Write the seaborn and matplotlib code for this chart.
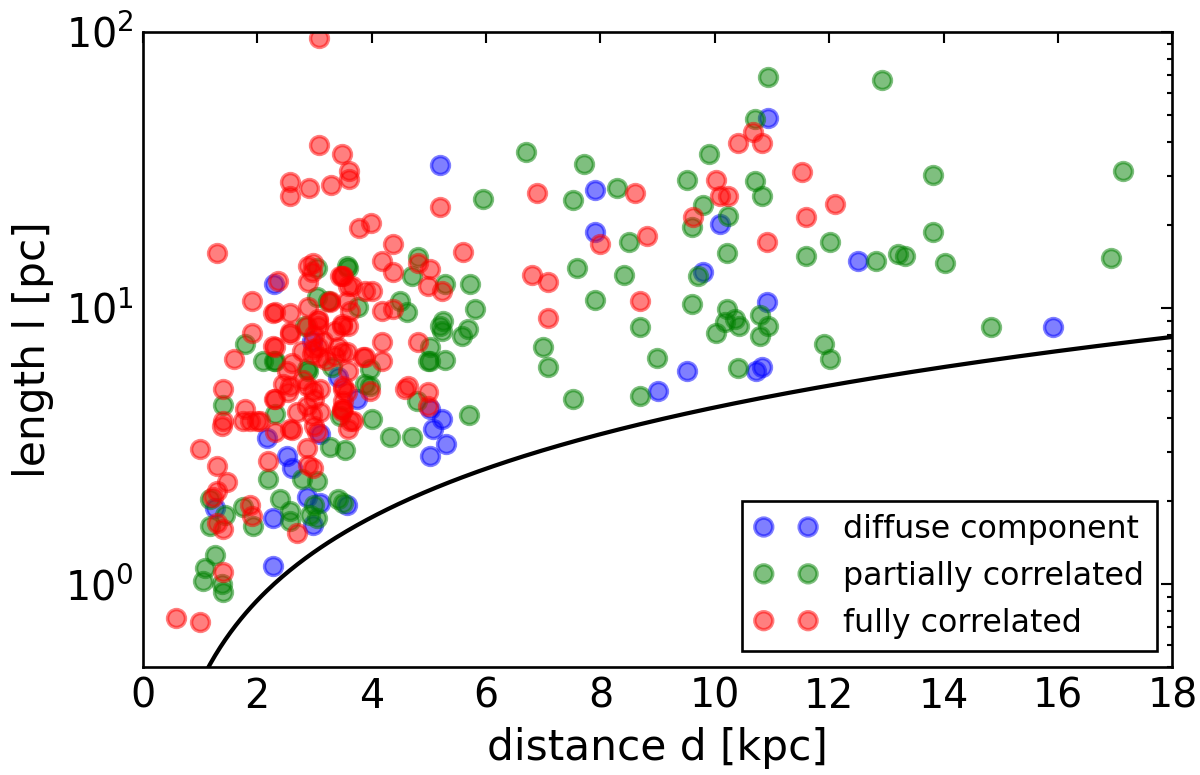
import numpy as np
import pandas as pd
import matplotlib
matplotlib.use("Agg")
import matplotlib.pyplot as plt
import seaborn as sns

# diffuse component (blue)
diffuse_d = [5.2, 7.91, 7.91, 10.09, 9.8, 10.91, 10.93, 12.5, 15.92, 9.52, 9.0, 10.72, 10.83,
             2.29, 3.41, 3.74, 2.17, 2.52, 2.6, 3.1, 1.26, 2.27, 2.87, 3.1, 2.97, 3.57,
             2.27, 5.02, 5.23, 5.07, 5.3, 5.02, 2.95]
diffuse_l = [32.8, 26.7, 18.8, 20.1, 13.5, 10.5, 48.9, 14.8, 8.54, 5.9, 5.0, 5.93, 6.1,
             12.2, 5.6, 4.7, 3.37, 2.92, 2.63, 3.5, 1.88, 1.73, 2.07, 1.96, 1.64, 1.93,
             1.16, 4.3, 3.97, 3.66, 3.23, 2.9, 7.6]

# partially correlated (green)
partial_d = [10.93, 12.93, 10.7, 6.7, 7.71, 9.9, 5.95, 7.52, 8.29, 9.52, 10.7, 10.83, 9.8,
             9.6, 10.23, 8.5, 10.22, 7.59, 8.41, 9.71, 7.91, 9.6, 10.22, 10.36, 10.43, 10.18,
             10.02, 10.79, 10.93, 10.79, 8.69, 7.0, 7.08, 8.99, 10.41, 7.52, 8.69, 13.82,
             17.14, 13.82, 12.02, 11.6, 12.82, 13.2, 13.33, 14.03, 16.93, 14.82, 11.9, 12.02,
             5.72, 5.28, 4.81, 4.7, 3.59, 4.5, 4.62, 3.76, 5.81, 5.25, 5.2, 5.68, 5.58, 5.02,
             4.98, 5.02, 5.28, 5.23, 3.97, 3.88, 3.97, 4.79, 5.7, 4.0, 4.32, 4.7, 3.45, 3.53,
             3.27, 1.78, 2.1, 2.29, 1.4, 2.31, 2.87, 2.89, 3.31, 3.04, 3.04, 3.24, 3.57, 2.31,
             2.83, 2.19, 2.78, 3.04, 1.17, 1.43, 1.17, 1.75, 1.92, 2.4, 2.57, 2.57, 3.0, 3.04,
             2.92, 3.41, 3.5, 1.26, 1.08, 1.05, 1.38, 1.4]
partial_l = [68.8, 67.0, 48.2, 36.6, 33.1, 36.0, 24.7, 24.6, 27.1, 29.0, 28.7, 25.4, 23.5,
             19.6, 21.5, 17.3, 15.8, 13.9, 13.2, 13.0, 10.7, 10.3, 9.9, 9.1, 8.6, 8.9,
             8.1, 9.4, 8.6, 7.9, 8.5, 7.2, 6.1, 6.6, 6.07, 4.7, 4.8, 30.2,
             31.2, 18.8, 17.4, 15.4, 14.8, 15.7, 15.4, 14.6, 15.2, 8.54, 7.4, 6.55,
             12.2, 12.2, 15.3, 13.0, 14.0, 10.6, 9.7, 10.1, 9.9, 9.0, 8.6, 8.4, 7.9, 7.2,
             6.4, 6.4, 6.5, 8.26, 6.0, 5.3, 5.2, 4.6, 4.1, 3.95, 3.4, 3.42, 4.05, 3.05,
             3.15, 7.4, 6.4, 6.4, 4.47, 4.12, 6.0, 5.9, 6.1, 14.0, 11.0, 10.6, 14.2, 6.4,
             8.6, 2.41, 2.41, 2.37, 2.04, 1.78, 1.62, 1.9, 1.62, 2.04, 1.84, 1.69, 1.93, 1.73,
             1.78, 2.04, 1.96, 1.27, 1.14, 1.03, 1.0, 0.94]

# fully correlated (red)
full_d = [3.08, 3.08, 3.48, 3.6, 3.6, 2.57, 2.57, 2.9, 3.29, 5.2, 3.78, 3.99, 4.37, 5.6,
          4.18, 4.81, 4.37, 5.02, 4.98, 5.23, 3.45, 3.59, 4.0, 4.18, 4.37, 4.81, 4.18, 3.88,
          4.18, 4.63, 4.58, 4.98, 4.98, 3.97, 3.5, 3.5, 3.5, 3.67,
          10.41, 10.83, 10.67, 6.89, 8.61, 10.02, 10.09, 10.23, 9.62, 7.99, 8.82, 10.91,
          6.8, 7.08, 8.69, 7.08, 11.53, 12.1, 11.6,
          1.29, 2.36, 1.91, 2.27, 2.57, 2.57, 1.91, 2.27, 1.59, 1.4, 1.4, 1.78, 1.87, 2.05,
          2.29, 2.89, 2.97, 2.89, 3.5, 3.27, 2.89, 3.06, 3.06, 2.87, 3.48, 2.57, 3.36, 3.57,
          3.5, 3.48, 1.0, 1.29, 1.47, 1.29, 1.22, 1.29, 1.4, 1.87, 1.91, 2.69, 1.4, 0.58,
          1.0, 1.38, 1.75, 2.0, 2.31, 2.6, 2.19, 2.87, 2.89, 2.97,
          2.96, 3.48, 3.66, 3.88, 3.27, 3.57, 3.62, 2.31, 2.57, 3.06, 3.48, 3.59, 3.36,
          2.97, 3.06, 3.41, 3.48, 2.78, 2.31, 2.6, 2.52, 3.1, 3.59, 3.85, 2.45, 2.54, 2.87,
          2.97, 3.1, 3.57, 2.31, 2.69, 2.87, 2.96, 3.1, 3.48, 3.62, 3.59, 2.57, 3.0, 3.04,
          3.0, 2.8, 3.0, 3.15, 2.95, 3.2]
full_l = [95.0, 38.8, 36.0, 31.2, 29.2, 28.5, 25.4, 27.1, 27.8, 23.2, 19.4, 20.3, 17.0, 16.0,
          14.8, 14.6, 13.5, 13.8, 12.0, 11.5, 13.0, 12.0, 11.5, 9.75, 9.9, 7.5, 7.5, 6.65,
          6.4, 5.2, 5.1, 4.97, 4.4, 5.0, 5.1, 4.6, 4.3, 3.9,
          39.7, 39.7, 43.5, 26.0, 26.0, 29.0, 25.4, 25.4, 21.3, 17.0, 18.2, 17.3,
          13.2, 12.4, 10.6, 9.2, 31.0, 23.7, 21.3,
          15.8, 12.5, 10.6, 9.6, 9.6, 8.06, 8.1, 7.3, 6.55, 5.1, 3.9, 4.3, 3.9, 3.9,
          4.7, 14.2, 14.6, 12.4, 13.0, 10.6, 10.1, 9.1, 8.6, 8.6, 8.6, 5.2, 6.7, 6.9,
          5.2, 4.25, 3.09, 2.67, 2.35, 2.18, 2.07, 1.66, 1.59, 1.93, 1.76, 1.53, 1.11, 0.755,
          0.73, 3.75, 3.9, 3.9, 3.56, 3.6, 2.78, 3.1, 2.7, 2.63,
          13.5, 13.0, 12.0, 11.5, 10.5, 10.6, 9.75, 9.7, 8.2, 9.0, 8.75, 8.6, 8.26,
          7.1, 7.2, 7.2, 6.9, 7.0, 7.2, 6.3, 5.9, 6.65, 5.9, 6.65, 5.3, 4.97, 5.2,
          5.0, 5.1, 4.97, 4.7, 4.2, 4.4, 4.08, 4.2, 4.3, 3.9, 3.65, 3.65, 3.75, 3.56,
          4.7, 5.5, 8.0, 7.6, 6.8, 6.5]

# resolution limit: 1.5 arcmin, in pc per kpc
theta = 1.5 / 60 * np.pi / 180 * 1e3

df = pd.concat([
    pd.DataFrame({'d': diffuse_d, 'l': diffuse_l, 'type': 'diffuse component'}),
    pd.DataFrame({'d': partial_d, 'l': partial_l, 'type': 'partially correlated'}),
    pd.DataFrame({'d': full_d, 'l': full_l, 'type': 'fully correlated'}),
])
colors = {'diffuse component': 'b', 'partially correlated': 'g', 'fully correlated': 'r'}

sns.set_style("white")
plt.rcParams['font.family'] = ['DejaVu Sans']
plt.rcParams['text.color'] = 'k'
plt.rcParams['axes.labelcolor'] = 'k'
plt.rcParams['xtick.color'] = 'k'
plt.rcParams['ytick.color'] = 'k'
plt.rcParams['xtick.direction'] = 'in'
plt.rcParams['ytick.direction'] = 'in'
plt.rcParams['xtick.top'] = True
plt.rcParams['ytick.right'] = True

fig, ax = plt.subplots(figsize=(6.316, 4.079), dpi=190)
fig.subplots_adjust(left=0.119, right=0.977, top=0.959, bottom=0.139)

#%%
# resolution limit curve
d_line = np.linspace(0.05, 18, 400)
ax.plot(d_line, theta * d_line, color='k', lw=1.6)

for t, c in colors.items():
    sub = df[df['type'] == t]
    sns.scatterplot(data=sub, x='d', y='l', color=c, edgecolor=c, s=46,
                    linewidth=1.3, alpha=0.5, label=t, ax=ax)

ax.set_yscale('log')
ax.set_xlim(0, 18)
ax.set_ylim(0.5, 100)
ax.set_xticks(range(0, 19, 2))
ax.tick_params(which='major', length=4, width=0.8, labelsize=15)
ax.tick_params(which='minor', length=2, width=0.8)
ax.tick_params(axis='x', which='minor', bottom=False, top=False)
for sp in ax.spines.values():
    sp.set_linewidth(1.0)
    sp.set_color('k')

ax.set_xlabel('distance d [kpc]', fontsize=16)
ax.set_ylabel('length l [pc]', fontsize=16)

leg = ax.legend(loc='lower right', scatterpoints=2, scatteryoffsets=[0.5], fontsize=12,
                fancybox=False, framealpha=1, edgecolor='k', borderpad=0.4,
                handletextpad=0.8, labelspacing=0.5)
leg.get_frame().set_linewidth(1.0)

plt.savefig('out.png', dpi=190)
